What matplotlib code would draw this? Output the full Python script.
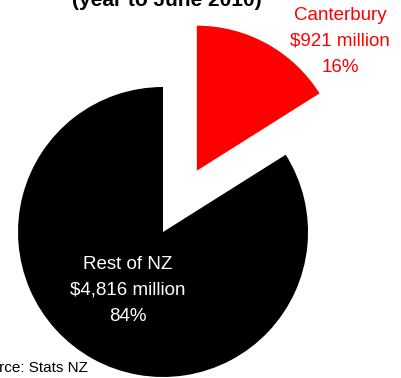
import matplotlib.pyplot as plt

plt.rcParams['font.family'] = ['Liberation Sans', 'DejaVu Sans']

# Value of exports by region, year to June 2010
regions = ['Canterbury', 'Rest of NZ']
values_m = [921, 4816]
colours = ['#ff0000', '#000000']
text_colours = ['#ff0000', '#ffffff']
explode = [0.483, 0.0]

total = sum(values_m)
shares = [v / total * 100 for v in values_m]

fig = plt.figure(figsize=(4.01, 3.78), dpi=100)
ax = fig.add_axes([0, 0, 1, 1])

ax.pie(values_m, colors=colours, explode=explode, startangle=90,
       counterclock=False, radius=1.0, center=(0, 0))

ax.set_xlim(-1.124, 1.641)
ax.set_ylim(-1.007, 1.6)
ax.set_aspect('equal')
ax.axis('off')

# slice labels: name, dollar value, share
label_pos = [(1.221, 1.314), (-0.241, -0.403)]
for name, val, pct, (lx, ly), tc in zip(regions, values_m, shares, label_pos, text_colours):
    ax.text(lx, ly, f'{name}\n${val:,} million\n{pct:.0f}%',
            ha='center', va='center', multialignment='center',
            fontsize=13.5, color=tc, linespacing=1.7)

fig.text(167 / 401, 1 - 6.5 / 378, '(year to June 2010)', ha='center',
         va='baseline', fontsize=15, fontweight='bold')
fig.text(87.5 / 401, 1 - 372 / 378, 'Source: Stats NZ', ha='right',
         va='baseline', fontsize=11)

fig.savefig('out.png', dpi=100)
